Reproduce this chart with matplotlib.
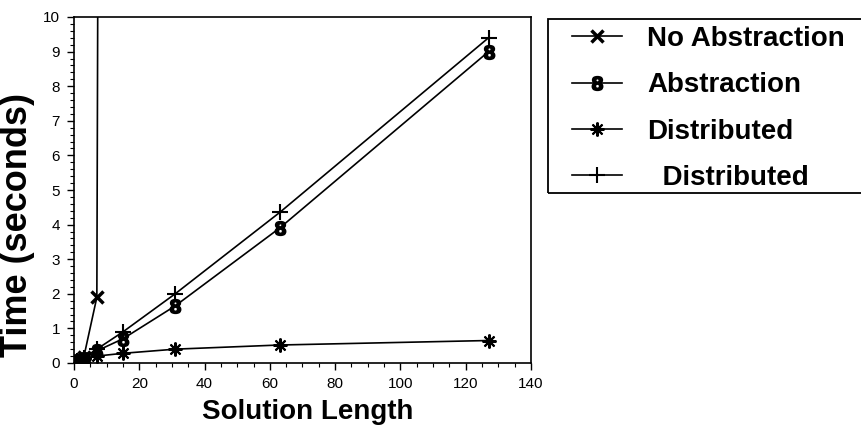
import matplotlib
matplotlib.use('Agg')
import matplotlib.pyplot as plt
from matplotlib.patches import Rectangle
from matplotlib.ticker import MultipleLocator

plt.rcParams['font.family'] = ['Liberation Sans', 'DejaVu Sans']

# solution lengths and timings (seconds)
no_abs_x = [1, 3, 7, 15]
no_abs_y = [0.05, 0.17, 1.9, 250]
abs_x = [1, 3, 7, 15, 31, 63, 127]
abs_y = [0.05, 0.12, 0.35, 0.7, 1.65, 3.9, 9.0]
dist_star_x = [1, 3, 7, 15, 31, 63, 127]
dist_star_y = [0.05, 0.12, 0.2, 0.28, 0.4, 0.52, 0.65]
dist_plus_x = [1, 3, 7, 15, 31, 63, 127]
dist_plus_y = [0.05, 0.15, 0.4, 0.9, 2.0, 4.35, 9.4]

labels = ['No Abstraction', 'Abstraction', 'Distributed', '  Distributed']

fig = plt.figure(figsize=(8.61, 4.26), dpi=100)
ax = fig.add_axes([74/861, 1-363/426, (531-74)/861, (363-17)/426])

lw = 1.2
ax.plot(no_abs_x, no_abs_y, color='k', lw=lw, marker='x', ms=8, mew=2.5, label=labels[0])
ax.plot(abs_x, abs_y, color='k', lw=lw, marker=r'$\mathbf{8}$', ms=10, label=labels[1])
ax.plot(dist_star_x, dist_star_y, color='k', lw=lw, marker=(8, 2, 0), ms=10, mew=1.5, label=labels[2])
ax.plot(dist_plus_x, dist_plus_y, color='k', lw=lw, marker='+', ms=12, mew=1.5, label=labels[3])

ax.set_xlim(0, 140)
ax.set_ylim(0, 10)
ax.xaxis.set_major_locator(MultipleLocator(20))
ax.xaxis.set_minor_locator(MultipleLocator(5))
ax.yaxis.set_major_locator(MultipleLocator(1))
ax.yaxis.set_minor_locator(MultipleLocator(0.2))
ax.tick_params(which='major', direction='out', length=5, width=1, labelsize=11, pad=5)
ax.tick_params(which='minor', direction='out', length=3, width=0.8)
for s in ax.spines.values():
    s.set_linewidth(1.2)

ax.set_xlabel('Solution Length', fontsize=20, fontweight='bold')
ax.set_ylabel('Time (seconds)', fontsize=26, fontweight='bold')
ax.xaxis.set_label_coords(0.511, -0.103)
ax.yaxis.set_label_coords(-0.086, 0.4)

handles, lbls = ax.get_legend_handles_labels()
fig.legend(handles, lbls, loc='upper left', bbox_to_anchor=(572/861, 1-26/426),
           frameon=False, borderpad=0, borderaxespad=0, handlelength=1.8,
           handletextpad=0.9, labelspacing=0.73,
           prop={'size': 20, 'weight': 'bold'})
fig.patches.append(Rectangle((548/861, 1-193/426), 0.5, (193-19)/426, fill=False,
                             lw=1.3, ec='k', transform=fig.transFigure))

fig.savefig('out.png', dpi=100)
